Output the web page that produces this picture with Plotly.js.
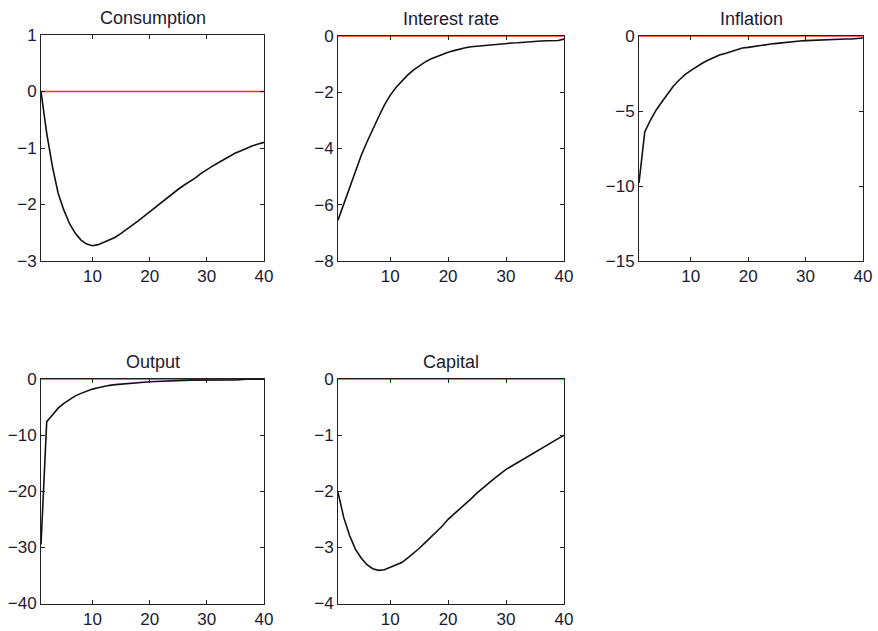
<!DOCTYPE html>
<html>
<head>
<meta charset="utf-8">
<script src="https://cdn.plot.ly/plotly-3.0.1.min.js"></script>
<style>html,body{margin:0;padding:0;background:#fff;}#chart{width:878px;height:631px;}</style>
</head>
<body>
<div id="chart"></div>
<script>
// Horizons (quarters)
const periods = Array.from({length: 40}, (_, i) => i + 1);

const titles = ["Consumption", "Interest rate", "Inflation", "Output", "Capital"];

const consumption = [0, -0.74, -1.33, -1.80, -2.10, -2.34, -2.51, -2.63, -2.70, -2.73,
  -2.71, -2.67, -2.63, -2.58, -2.51, -2.44, -2.36, -2.29, -2.21, -2.13,
  -2.05, -1.97, -1.88, -1.80, -1.73, -1.66, -1.60, -1.53, -1.45, -1.38,
  -1.32, -1.26, -1.20, -1.15, -1.09, -1.05, -1.00, -0.96, -0.93, -0.90];

const interestRate = [-6.55, -5.97, -5.38, -4.79, -4.25, -3.77, -3.30, -2.88, -2.46, -2.11,
  -1.83, -1.60, -1.39, -1.21, -1.06, -0.93, -0.82, -0.74, -0.65, -0.58,
  -0.52, -0.46, -0.42, -0.38, -0.36, -0.33, -0.31, -0.29, -0.27, -0.26,
  -0.25, -0.24, -0.22, -0.20, -0.19, -0.18, -0.17, -0.17, -0.16, -0.11];

const inflation = [-9.8, -6.4, -5.6, -4.93, -4.38, -3.82, -3.33, -2.93, -2.58, -2.31,
  -2.04, -1.82, -1.62, -1.44, -1.27, -1.16, -1.04, -0.93, -0.80, -0.76,
  -0.69, -0.62, -0.58, -0.53, -0.49, -0.44, -0.40, -0.38, -0.33, -0.31,
  -0.29, -0.27, -0.24, -0.22, -0.22, -0.20, -0.20, -0.20, -0.18, -0.13];

const output = [-29.5, -7.6, -6.4, -5.2, -4.35, -3.6, -3.0, -2.56, -2.14, -1.8,
  -1.55, -1.3, -1.13, -1.0, -0.9, -0.78, -0.65, -0.6, -0.55, -0.48,
  -0.45, -0.42, -0.40, -0.40, -0.40, -0.25, -0.20, -0.18, -0.18, -0.18,
  -0.18, -0.18, -0.18, -0.18, -0.18, -0.08, -0.05, -0.05, -0.05, -0.05];

const capital = [-2.02, -2.47, -2.79, -3.03, -3.19, -3.31, -3.38, -3.41, -3.40, -3.36,
  -3.32, -3.27, -3.19, -3.11, -3.02, -2.92, -2.82, -2.72, -2.62, -2.50,
  -2.41, -2.32, -2.23, -2.13, -2.03, -1.94, -1.86, -1.77, -1.69, -1.61,
  -1.55, -1.49, -1.42, -1.36, -1.31, -1.24, -1.18, -1.12, -1.06, -1.00];

const series = [consumption, interestRate, inflation, output, capital];
const zeroLine = periods.map(() => 0);

const xTicks = [10, 20, 30, 40];
const yRanges = [[-3, 1], [-8, 0], [-15, 0], [-40, 0], [-4, 0]];
const yTicks = [[-3, -2, -1, 0, 1], [-8, -6, -4, -2, 0], [-15, -10, -5, 0], [-40, -30, -20, -10, 0], [-4, -3, -2, -1, 0]];

// panel pixel boxes [left, right, top, bottom]
const W = 878, H = 631;
const boxes = [[41, 264, 35, 261], [338, 564, 36, 261], [639, 863, 36, 261],
               [41, 264, 379, 603.5], [338, 564, 379, 603.5]];

const font = {family: "Liberation Sans, Arial, Helvetica, sans-serif", size: 17, color: "#1a1a33"};
const traces = [];
const layout = {
  width: W, height: H, margin: {l: 0, r: 0, t: 0, b: 0},
  paper_bgcolor: "#fff", plot_bgcolor: "#fff", showlegend: false,
  font: font, annotations: []
};

series.forEach((s, i) => {
  const n = i + 1;
  const xa = "x" + (n === 1 ? "" : n), ya = "y" + (n === 1 ? "" : n);
  traces.push({x: periods, y: zeroLine, xaxis: xa, yaxis: ya, mode: "lines",
    line: {color: "#ff2a2a", width: 1.5}, hoverinfo: "skip"});
  traces.push({x: periods, y: s, xaxis: xa, yaxis: ya, mode: "lines",
    line: {color: "#111", width: 1.6}});
  const b = boxes[i];
  const common = {showgrid: false, zeroline: false, showline: true, mirror: "ticks",
    linecolor: "#222", linewidth: 1, ticks: "inside", ticklen: 4, tickcolor: "#222",
    tickfont: font, fixedrange: true};
  layout["xaxis" + (n === 1 ? "" : n)] = Object.assign({}, common, {
    domain: [b[0] / W, b[1] / W], range: [1, 40], tickvals: xTicks,
    anchor: "y" + (n === 1 ? "" : n)});
  layout["yaxis" + (n === 1 ? "" : n)] = Object.assign({}, common, {
    domain: [1 - b[3] / H, 1 - b[2] / H], range: yRanges[i], tickvals: yTicks[i],
    anchor: "x" + (n === 1 ? "" : n), ticklabelstandoff: 0});
  layout.annotations.push({text: titles[i], xref: "paper", yref: "paper",
    x: (b[0] + b[1]) / 2 / W, y: 1 - (b[2] - 5) / H, xanchor: "center", yanchor: "bottom",
    showarrow: false, font: {family: font.family, size: 18, color: "#1a1a33"}});
});

Plotly.newPlot("chart", traces, layout, {displayModeBar: false, staticPlot: true});
</script>
</body>
</html>
